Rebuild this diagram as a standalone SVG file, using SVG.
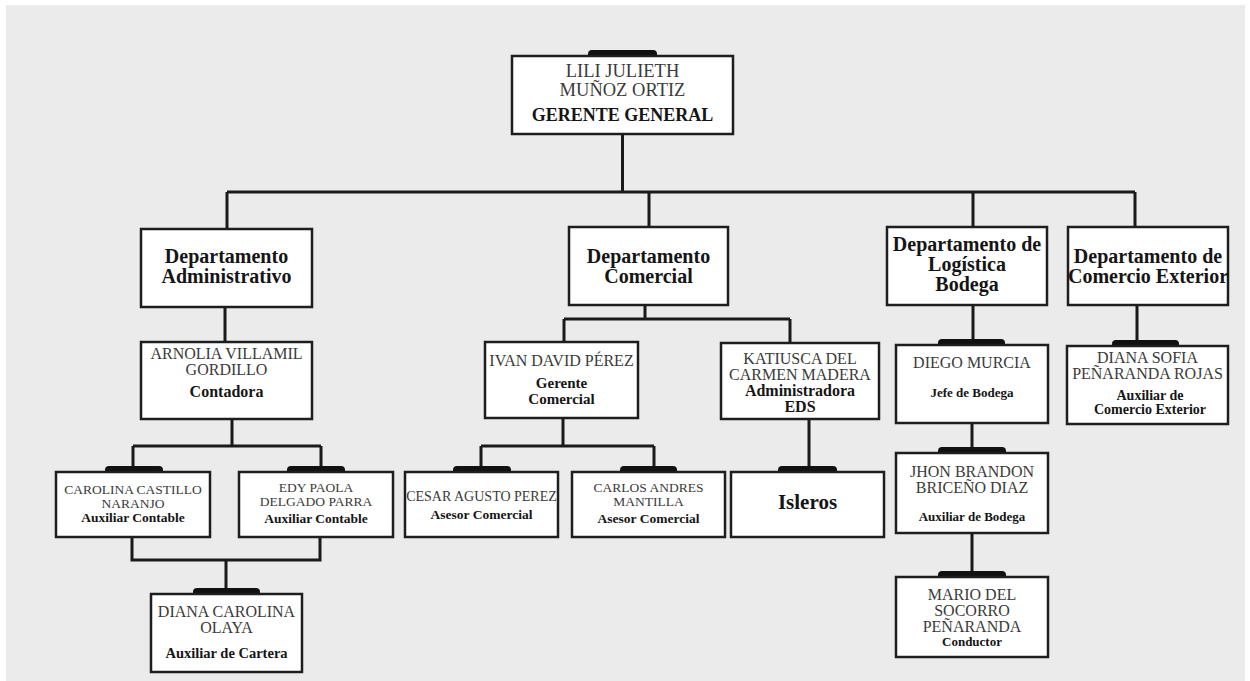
<svg xmlns="http://www.w3.org/2000/svg" width="1250" height="681" viewBox="0 0 1250 681">
<style>
.box{fill:#fff;stroke:#1e1e1e;stroke-width:2.5}
.tab{fill:#111}
.con{fill:none;stroke:#1a1a1a;stroke-width:3}
text{font-family:"Liberation Serif","Times New Roman",serif;text-anchor:middle}
.n{fill:#3a3a3a}
.b{font-weight:bold;fill:#151515}
</style>
<rect x="0" y="0" width="1250" height="681" fill="#fff"/>
<rect x="6" y="5" width="1239" height="676" fill="#ebebeb"/>
<g id="connectors">
<path class="con" d="M622.5 134V192M227 192H1135M227 192V229M649 192V227M973 192V227M1135 192V227"/>
<path class="con" d="M225 307V342M232 419V446M133 446H321M133 446V472M321 446V472M132 537V560H320V537M226 560V594"/>
<path class="con" d="M645 305V319M564 319H790M564 319V342M790 319V343M563 418V446M481 446H654M481 446V472M654 446V472M809 419V472"/>
<path class="con" d="M973 305V345M972 423V453M972 533V577M1137 305V346"/>
</g>
<g id="gerente">
<rect class="tab" x="588" y="50" width="69" height="10" rx="4"/>
<rect class="box" x="512" y="56" width="221" height="78"/>
<text class="n" x="622.5" y="77" font-size="18.5">LILI JULIETH</text>
<text class="n" x="622.5" y="95.5" font-size="18.5">MUÑOZ ORTIZ</text>
<text class="b" x="622.5" y="121" font-size="18">GERENTE GENERAL</text>
</g>
<g id="dept-admin">
<rect class="box" x="141" y="229" width="171" height="78"/>
<text class="b" x="226.5" y="263" font-size="20">Departamento</text>
<text class="b" x="226.5" y="283" font-size="20">Administrativo</text>
</g>
<g id="dept-comercial">
<rect class="box" x="569" y="227" width="159" height="78"/>
<text class="b" x="648.5" y="263" font-size="20">Departamento</text>
<text class="b" x="648.5" y="283" font-size="20">Comercial</text>
</g>
<g id="dept-logistica">
<rect class="box" x="887" y="227" width="160" height="78"/>
<text class="b" x="967" y="251" font-size="20">Departamento de</text>
<text class="b" x="967" y="271" font-size="20">Logística</text>
<text class="b" x="967" y="291" font-size="20">Bodega</text>
</g>
<g id="dept-comext">
<rect class="box" x="1068" y="227" width="160" height="78"/>
<text class="b" x="1148" y="263" font-size="20">Departamento de</text>
<text class="b" x="1148" y="283" font-size="20">Comercio Exterior</text>
</g>
<g id="arnolia">
<rect class="box" x="141" y="342" width="171" height="77"/>
<text class="n" x="226.5" y="359" font-size="16">ARNOLIA VILLAMIL</text>
<text class="n" x="226.5" y="375" font-size="16">GORDILLO</text>
<text class="b" x="226.5" y="397" font-size="16">Contadora</text>
</g>
<g id="carolina">
<rect class="tab" x="105" y="466" width="58" height="10" rx="4"/>
<rect class="box" x="56" y="472" width="154" height="65"/>
<text class="n" x="133" y="494" font-size="13.5">CAROLINA CASTILLO</text>
<text class="n" x="133" y="507.5" font-size="13.5">NARANJO</text>
<text class="b" x="133" y="522" font-size="13.5">Auxiliar Contable</text>
</g>
<g id="edy">
<rect class="tab" x="287" y="466" width="58" height="10" rx="4"/>
<rect class="box" x="239" y="472" width="154" height="65"/>
<text class="n" x="316" y="492" font-size="13.5">EDY PAOLA</text>
<text class="n" x="316" y="505.5" font-size="13.5">DELGADO PARRA</text>
<text class="b" x="316" y="523" font-size="13.5">Auxiliar Contable</text>
</g>
<g id="diana-carolina">
<rect class="tab" x="193" y="588" width="67" height="10" rx="4"/>
<rect class="box" x="151" y="594" width="151" height="78"/>
<text class="n" x="226.5" y="617" font-size="16">DIANA CAROLINA</text>
<text class="n" x="226.5" y="633" font-size="16">OLAYA</text>
<text class="b" x="226.5" y="658" font-size="14.5">Auxiliar de Cartera</text>
</g>
<g id="ivan">
<rect class="box" x="485" y="342" width="153" height="76"/>
<text class="n" x="561.5" y="366" font-size="16">IVAN DAVID PÉREZ</text>
<text class="b" x="561.5" y="388" font-size="15">Gerente</text>
<text class="b" x="561.5" y="404" font-size="15">Comercial</text>
</g>
<g id="katiusca">
<rect class="box" x="721" y="343" width="158" height="76"/>
<text class="n" x="800" y="364" font-size="16">KATIUSCA DEL</text>
<text class="n" x="800" y="380" font-size="16">CARMEN MADERA</text>
<text class="b" x="800" y="396" font-size="16">Administradora</text>
<text class="b" x="800" y="412" font-size="16">EDS</text>
</g>
<g id="cesar">
<rect class="tab" x="453" y="466" width="58" height="10" rx="4"/>
<rect class="box" x="405" y="472" width="153" height="65"/>
<text class="n" x="481.5" y="501" font-size="14">CESAR AGUSTO PEREZ</text>
<text class="b" x="481.5" y="519" font-size="13.5">Asesor Comercial</text>
</g>
<g id="carlos">
<rect class="tab" x="620" y="466" width="57" height="10" rx="4"/>
<rect class="box" x="572" y="472" width="153" height="65"/>
<text class="n" x="648.5" y="492" font-size="13.5">CARLOS ANDRES</text>
<text class="n" x="648.5" y="505.5" font-size="13.5">MANTILLA</text>
<text class="b" x="648.5" y="523" font-size="13.5">Asesor Comercial</text>
</g>
<g id="isleros">
<rect class="tab" x="778" y="466" width="59" height="10" rx="4"/>
<rect class="box" x="731" y="472" width="153" height="65"/>
<text class="b" x="807.5" y="509" font-size="21">Isleros</text>
</g>
<g id="diego">
<rect class="tab" x="938" y="339" width="67" height="10" rx="4"/>
<rect class="box" x="896" y="345" width="152" height="78"/>
<text class="n" x="972" y="368" font-size="16">DIEGO MURCIA</text>
<text class="b" x="972" y="397" font-size="13">Jefe de Bodega</text>
</g>
<g id="jhon">
<rect class="tab" x="938" y="447" width="68" height="10" rx="4"/>
<rect class="box" x="896" y="453" width="152" height="80"/>
<text class="n" x="972" y="477" font-size="16">JHON BRANDON</text>
<text class="n" x="972" y="493" font-size="16">BRICEÑO DIAZ</text>
<text class="b" x="972" y="521" font-size="13">Auxiliar de Bodega</text>
</g>
<g id="mario">
<rect class="tab" x="938" y="571" width="68" height="10" rx="4"/>
<rect class="box" x="896" y="577" width="152" height="80"/>
<text class="n" x="972" y="600" font-size="16">MARIO DEL</text>
<text class="n" x="972" y="616" font-size="16">SOCORRO</text>
<text class="n" x="972" y="632" font-size="16">PEÑARANDA</text>
<text class="b" x="972" y="646" font-size="13">Conductor</text>
</g>
<g id="diana-sofia">
<rect class="tab" x="1112" y="340" width="67" height="10" rx="4"/>
<rect class="box" x="1067" y="346" width="161" height="78"/>
<text class="n" x="1147.5" y="363" font-size="16">DIANA SOFIA</text>
<text class="n" x="1147.5" y="379" font-size="16">PEÑARANDA ROJAS</text>
<text class="b" x="1150" y="399.5" font-size="14">Auxiliar de</text>
<text class="b" x="1150" y="414" font-size="14">Comercio Exterior</text>
</g>
</svg>
